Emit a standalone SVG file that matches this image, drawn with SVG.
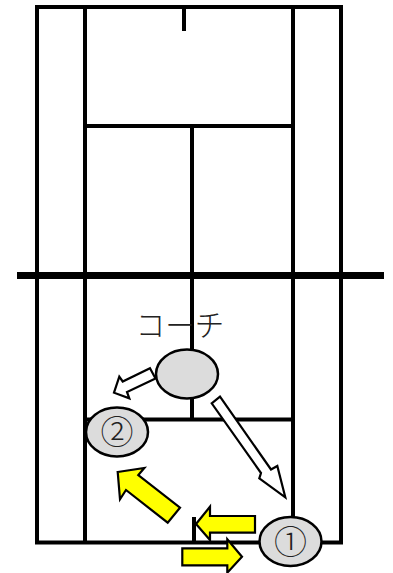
<svg xmlns="http://www.w3.org/2000/svg" width="393" height="573" viewBox="0 0 393 573">
<style>
.court{fill:none;stroke:#000;stroke-width:4}
.net{fill:none;stroke:#000;stroke-width:7}
.player{fill:#dcdcdc;stroke:#000;stroke-width:2.5}
.white{fill:#fff;stroke:#000;stroke-width:2.2;stroke-linejoin:miter}
.yellow{fill:#ff0;stroke:#000;stroke-width:2.2;stroke-linejoin:miter}
text{font-family:"Noto Sans CJK JP","DejaVu Sans",sans-serif;font-weight:300;fill:#222;text-anchor:middle}
</style>
<rect width="393" height="573" fill="#fff"/>
<g id="court">
<rect class="court" x="37" y="7" width="304" height="535.5"/>
<path class="court" d="M85 7V542.5M293 7V542.5M85 126H293M85 419.5H293M192 126V419.5M184 7V31M194 517V542.5"/>
<path class="net" d="M17 275.5H384"/>
</g>
<g id="connectors">
<path class="white" d="M150 368.3L155.5 378.5L127 392L129.3 398.3L114 392.7L119.3 376.7L122.7 381.5Z"/>
<path class="white" d="M211.7 403.3L220 396.7L271 469.5L277.3 466L285.3 497.3L259.3 478.3L261 473Z"/>
<path class="yellow" d="M117.7 472L144.3 468L138.3 475L180 507.7L167.7 522.7L126 490L120 499.3Z"/>
<path class="yellow" d="M196 524L210 506.7V516H255V532.7H210V540Z"/>
<path class="yellow" d="M182.3 548.3H227.3V539.3L242 556.7L227.3 572.7V565.3H182.3Z"/>
</g>
<g id="coach">
<ellipse class="player" cx="187" cy="374" rx="31" ry="24.5"/>
<text x="180" y="336" font-size="29.5">コーチ</text>
</g>
<g id="player2">
<ellipse class="player" cx="117" cy="432" rx="31" ry="24.5"/>
<text x="117" y="444" font-size="33">②</text>
</g>
<g id="player1">
<ellipse class="player" cx="290.5" cy="541.5" rx="31" ry="24.5"/>
<text x="290.5" y="553.5" font-size="33">①</text>
</g>
</svg>
